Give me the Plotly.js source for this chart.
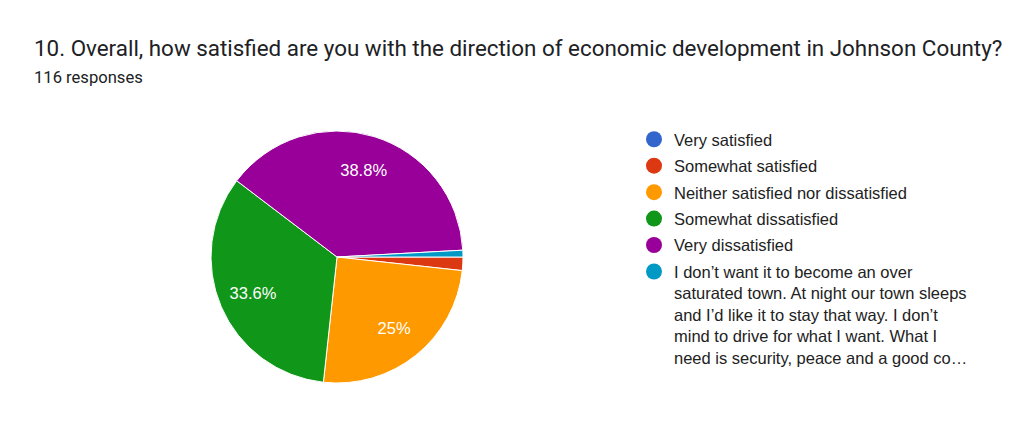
<!DOCTYPE html>
<html>
<head>
<meta charset="utf-8">
<script src="https://cdn.plot.ly/plotly-3.0.1.min.js"></script>
<style>html,body{margin:0;padding:0;background:#fff;}#chart{width:1024px;height:431px;}</style>
</head>
<body>
<div id="chart"></div>
<script>
var titleText = "10. Overall, how satisfied are you with the direction of economic development in Johnson County?";
var subtitleText = "116 responses";
var categories = [
  "Very satisfied",
  "Somewhat satisfied",
  "Neither satisfied nor dissatisfied",
  "Somewhat dissatisfied",
  "Very dissatisfied",
  "I don\u2019t want it to become an over<br>saturated town. At night our town sleeps<br>and I\u2019d like it to stay that way. I don\u2019t<br>mind to drive for what I want. What I<br>need is security, peace and a good co\u2026"
];
var counts = [0, 2, 29, 39, 45, 1];
var colors = ["#3366cc", "#dc3912", "#ff9900", "#109618", "#990099", "#0099c6"];

var total = counts.reduce(function(a, b) { return a + b; }, 0);
var templates = counts.map(function(v) { return v / total >= 0.05 ? "%{percent}" : ""; });
var clear = counts.map(function() { return "rgba(0,0,0,0)"; });

var labelFont = "Liberation Sans, Arial, sans-serif";
var pieDomain = { x: [211 / 1024, 463 / 1024], y: [1 - 383 / 431, 1 - 131 / 431] };

var traces = [{
  type: "pie",
  labels: categories,
  values: counts,
  sort: false,
  direction: "clockwise",
  rotation: 90,
  marker: { colors: colors, line: { color: "#ffffff", width: 1 } },
  textinfo: "none",
  showlegend: false,
  hoverinfo: "none",
  domain: pieDomain
}, {
  type: "pie",
  labels: categories,
  values: counts,
  sort: false,
  direction: "clockwise",
  rotation: 90,
  hole: 0.45,
  marker: { colors: clear, line: { width: 0 } },
  texttemplate: templates,
  textposition: "inside",
  insidetextorientation: "horizontal",
  textfont: { family: labelFont, size: 16.5, color: "#ffffff" },
  showlegend: false,
  hoverinfo: "none",
  domain: pieDomain
}];

categories.forEach(function(c, i) {
  traces.push({
    type: "scatter",
    mode: "markers",
    x: [null],
    y: [null],
    name: c,
    legendgroup: "g" + i,
    showlegend: true,
    marker: { color: colors[i], size: 16, symbol: "circle" },
    hoverinfo: "none"
  });
});

var layout = {
  width: 1024,
  height: 431,
  margin: { l: 0, r: 0, t: 0, b: 0 },
  paper_bgcolor: "#ffffff",
  plot_bgcolor: "#ffffff",
  xaxis: { visible: false, domain: [0.9, 1] },
  yaxis: { visible: false, domain: [0.9, 1] },
  showlegend: true,
  legend: {
    x: 634 / 1024,
    y: 1 - 122 / 431,
    xanchor: "left",
    yanchor: "top",
    valign: "top",
    tracegroupgap: 2,
    traceorder: "grouped",
    font: { family: labelFont, size: 16.5, color: "#222222" },
    bgcolor: "rgba(0,0,0,0)"
  },
  annotations: [
    {
      text: titleText,
      xref: "paper", yref: "paper",
      x: 32 / 1024, y: 1 - 48 / 431,
      xanchor: "left", yanchor: "middle",
      showarrow: false,
      font: { family: "Roboto, sans-serif", size: 22.4, color: "#202124" }
    },
    {
      text: subtitleText,
      xref: "paper", yref: "paper",
      x: 32 / 1024, y: 1 - 77 / 431,
      xanchor: "left", yanchor: "middle",
      showarrow: false,
      font: { family: "Roboto, sans-serif", size: 16.6, color: "#202124" }
    }
  ]
};

Plotly.newPlot("chart", traces, layout, { displayModeBar: false, staticPlot: true });
</script>
</body>
</html>
